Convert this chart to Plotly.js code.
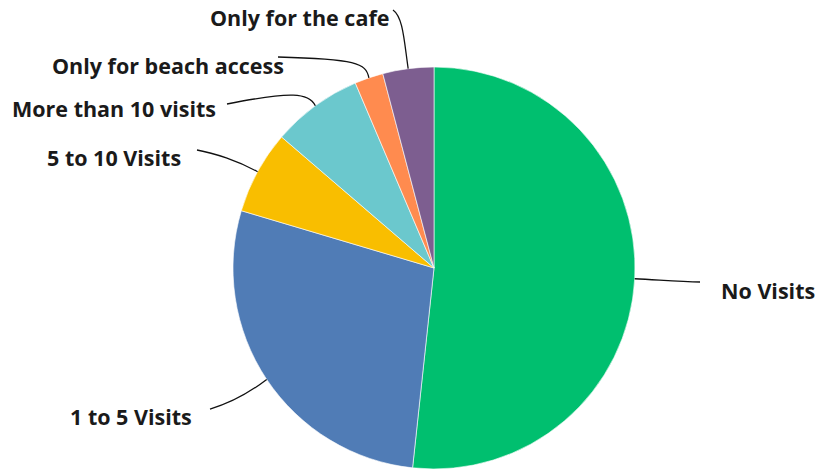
<!DOCTYPE html>
<html><head><meta charset="utf-8">
<script src="https://cdn.plot.ly/plotly-3.0.1.min.js"></script>
<style>html,body{margin:0;padding:0;background:#fff}#chart{width:815px;height:474px}</style>
</head><body><div id="chart"></div>
<script>
// Data
var categories = ["No Visits", "1 to 5 Visits", "5 to 10 Visits", "More than 10 visits", "Only for beach access", "Only for the cafe"];
var values = [51.7, 27.9, 6.7, 7.3, 2.3, 4.1];
var colors = ["#00BF6F", "#507CB6", "#F9BE00", "#6BC8CD", "#FF8B4F", "#7D5E90"];

// Layout / style (pixel geometry of the figure)
var W = 815, H = 474;
var CX = 434, CY = 268, R = 201;
// label anchor text positions [x, y, xanchor]
var labelPos = [[719, 290, "left"], [194, 416, "right"], [183, 158, "right"], [218, 109, "right"], [286, 65, "right"], [391, 18, "right"]];
// leader line controls: [c1x,c1y,c2x,c2y,endx,endy]
var leader = [
  [660, 280, 680, 282, 700, 282],
  [245, 396, 224, 405, 210, 409],
  [238, 161, 214, 153, 197, 150],
  [309, 93, 292, 91, 227, 104],
  [366, 63, 356, 59, 278, 57],
  [404, 40, 403, 17, 393, 10]
];

function px(x){return x / W;}
function py(y){return 1 - y / H;}

var total = values.reduce(function(a,b){return a+b;}, 0);
var annotations = [], shapes = [];
var cum = 0;
for (var i = 0; i < values.length; i++) {
  var mid = (cum + values[i] / 2) / total * 2 * Math.PI;
  cum += values[i];
  var sx = CX + R * Math.sin(mid), sy = CY - R * Math.cos(mid);
  var L = leader[i];
  shapes.push({
    type: "path", xref: "paper", yref: "paper",
    path: "M " + px(sx) + "," + py(sy) + " C " + px(L[0]) + "," + py(L[1]) + " " + px(L[2]) + "," + py(L[3]) + " " + px(L[4]) + "," + py(L[5]),
    line: {color: "#111", width: 1.3}
  });
  annotations.push({
    text: "<b>" + categories[i] + "</b>", xref: "paper", yref: "paper",
    x: px(labelPos[i][0]), y: py(labelPos[i][1]), xanchor: labelPos[i][2], yanchor: "middle",
    showarrow: false, font: {family: "Open Sans, sans-serif", size: 21.5, color: "#1a1a1a"}
  });
}

var trace = {
  type: "pie", labels: categories, values: values, sort: false,
  direction: "clockwise", rotation: 0,
  marker: {colors: colors, line: {color: "#ffffff", width: 0.6}},
  textinfo: "none", hoverinfo: "label+percent",
  domain: {x: [px(CX - R), px(CX + R)], y: [py(CY + R), py(CY - R)]},
  showlegend: false
};

Plotly.newPlot("chart", [trace], {
  width: W, height: H, margin: {l: 0, r: 0, t: 0, b: 0},
  paper_bgcolor: "#fff", showlegend: false,
  annotations: annotations, shapes: shapes
}, {displayModeBar: false, staticPlot: true});
</script></body></html>
